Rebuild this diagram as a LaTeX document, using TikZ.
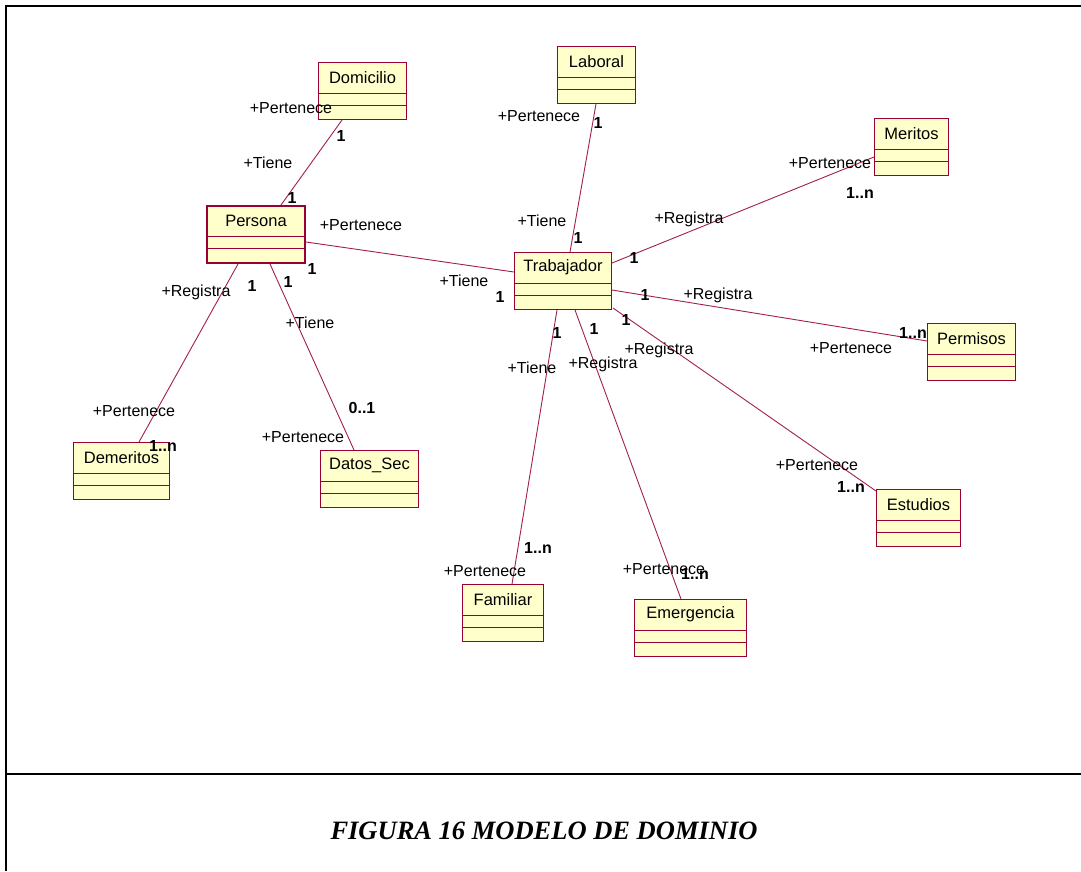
\documentclass[tikz,border=0pt]{standalone}
\usepackage{fontspec}
\setmainfont{Liberation Sans}
\newfontfamily\captionserif{Liberation Serif}
\definecolor{umlborder}{HTML}{990033}
\definecolor{umlfill}{HTML}{FFFFCC}
\definecolor{assoc}{HTML}{A3204C}
\tikzset{
  classbox/.style={draw=umlborder, fill=umlfill, line width=1pt, inner sep=0pt,
                   minimum height=57pt, anchor=north west},
  classname/.style={font=\fontsize{16.5}{19}\selectfont, inner sep=0pt},
  lbl/.style={font=\fontsize{16}{19}\selectfont, inner sep=0pt},
  mult/.style={font=\fontsize{16}{19}\selectfont\bfseries, inner sep=0pt},
  link/.style={draw=assoc, line width=0.9pt},
  frame/.style={line width=2pt, black}
}
% \umlclass{id}{x}{y}{width}{title}: class box with two empty compartments
\newcommand{\umlclass}[5]{%
  \node[classbox, minimum width=#4pt] (#1) at (#2,#3) {};
  \node[classname] (#1-title) at ([yshift=-15.5pt]#1.north) {#5};
  \draw[umlborder, line width=1pt] ([yshift=-31pt]#1.north west) -- ([yshift=-31pt]#1.north east);
  \draw[umlborder, line width=1pt] ([yshift=-43pt]#1.north west) -- ([yshift=-43pt]#1.north east);
}
\begin{document}
\begin{tikzpicture}[x=1pt, y=-1pt]
\useasboundingbox (0,0) rectangle (1081,871);
\fill[white] (0,0) rectangle (1081,871);

% page frame
\coordinate (ftl) at (6,6);
\coordinate (ftr) at (1081,6);
\coordinate (fbl) at (6,871);
\coordinate (fml) at (6,774);
\coordinate (fmr) at (1081,774);
\draw[frame] (ftr) -- (ftl) -- (fbl);
\draw[frame] (fml) -- (fmr);

% classes
\umlclass{domicilio}{318}{62}{88}{Domicilio}
\umlclass{laboral}{557}{46}{78}{Laboral}
\umlclass{meritos}{874}{118}{74}{Meritos}
\node[classbox, minimum width=98pt, line width=2pt] (persona) at (206,205) {};
\node[classname] (persona-title) at ([yshift=-15.5pt]persona.north) {Persona};
\draw[umlborder, line width=1pt] ([yshift=-31pt]persona.north west) -- ([yshift=-31pt]persona.north east);
\draw[umlborder, line width=1pt] ([yshift=-43pt]persona.north west) -- ([yshift=-43pt]persona.north east);
\umlclass{trab}{514}{252}{97}{Trabajador}
\umlclass{permisos}{927}{323}{88}{Permisos}
\umlclass{demeritos}{73}{442}{96}{Demeritos}
\umlclass{datos}{320}{450}{98}{Datos\_Sec}
\umlclass{estudios}{876}{489}{84}{Estudios}
\umlclass{familiar}{462}{584}{81}{Familiar}
\umlclass{emergencia}{634}{599}{112}{Emergencia}

% associations
\draw[link] ([xshift=24pt]domicilio.south west) -- ([xshift=75pt]persona.north west);
\draw[link] ([xshift=39pt]laboral.south west) -- ([xshift=56pt]trab.north west);
\draw[link] ([yshift=-39pt]meritos.north west) -- ([yshift=-11pt]trab.north east);
\draw[link] ([yshift=-37pt]persona.north east) -- ([yshift=-20pt]trab.north west);
\draw[link] ([yshift=-38pt]trab.north east) -- ([yshift=-18pt]permisos.north west);
\draw[link] ([xshift=1pt,yshift=2pt]trab.south east) -- ([yshift=-2pt]estudios.north west);
\draw[link] ([xshift=61pt]trab.south west) -- ([xshift=47pt]emergencia.north west);
\draw[link] ([xshift=43pt]trab.south west) -- ([xshift=50pt]familiar.north west);
\draw[link] ([xshift=32pt]persona.south west) -- ([xshift=66pt]demeritos.north west);
\draw[link] ([xshift=64pt]persona.south west) -- ([xshift=34pt]datos.north west);

% role names and multiplicities
\node[lbl] (r1) at (291,108) {+Pertenece};
\node[mult] (m1) at (341,136) {1};
\node[lbl] (r2) at (268,163) {+Tiene};
\node[mult] (m2) at (292,198) {1};
\node[lbl] (r3) at (539,116) {+Pertenece};
\node[mult] (m3) at (598,123) {1};
\node[lbl] (r4) at (542,221) {+Tiene};
\node[mult] (m4) at (578,238) {1};
\node[lbl] (r5) at (830,163) {+Pertenece};
\node[mult] (m5) at (860,193) {1..n};
\node[lbl] (r6) at (689,219) {+Registra};
\node[mult] (m6) at (634,258) {1};
\node[lbl] (r7) at (361,225) {+Pertenece};
\node[mult] (m7) at (312,269) {1};
\node[lbl] (r8) at (464,281) {+Tiene};
\node[mult] (m8) at (500,297) {1};
\node[mult] (m9) at (645,295) {1};
\node[lbl] (r9) at (718,295) {+Registra};
\node[mult] (m10) at (913,333) {1..n};
\node[lbl] (r10) at (851,348) {+Pertenece};
\node[mult] (m11) at (626,320) {1};
\node[lbl] (r11) at (659,350) {+Registra};
\node[lbl] (r12) at (817,465) {+Pertenece};
\node[mult] (m12) at (851,487) {1..n};
\node[mult] (m13) at (594,329) {1};
\node[lbl] (r13) at (603,364) {+Registra};
\node[lbl] (r14) at (664,569) {+Pertenece};
\node[mult] (m14) at (695,574) {1..n};
\node[mult] (m15) at (557,333) {1};
\node[lbl] (r15) at (532,368) {+Tiene};
\node[mult] (m16) at (538,548) {1..n};
\node[lbl] (r16) at (485,571) {+Pertenece};
\node[lbl] (r17) at (196,292) {+Registra};
\node[mult] (m17) at (252,286) {1};
\node[lbl] (r18) at (134,411) {+Pertenece};
\node[mult] (m18) at (163,446) {1..n};
\node[mult] (m19) at (288,282) {1};
\node[lbl] (r19) at (310,323) {+Tiene};
\node[mult] (m20) at (362,408) {0..1};
\node[lbl] (r20) at (303,437) {+Pertenece};

% caption
\node[font=\captionserif\bfseries\itshape\fontsize{26.5}{30}\selectfont, inner sep=0pt]
  (caption) at (544,831) {FIGURA 16 MODELO DE DOMINIO};
\end{tikzpicture}
\end{document}
